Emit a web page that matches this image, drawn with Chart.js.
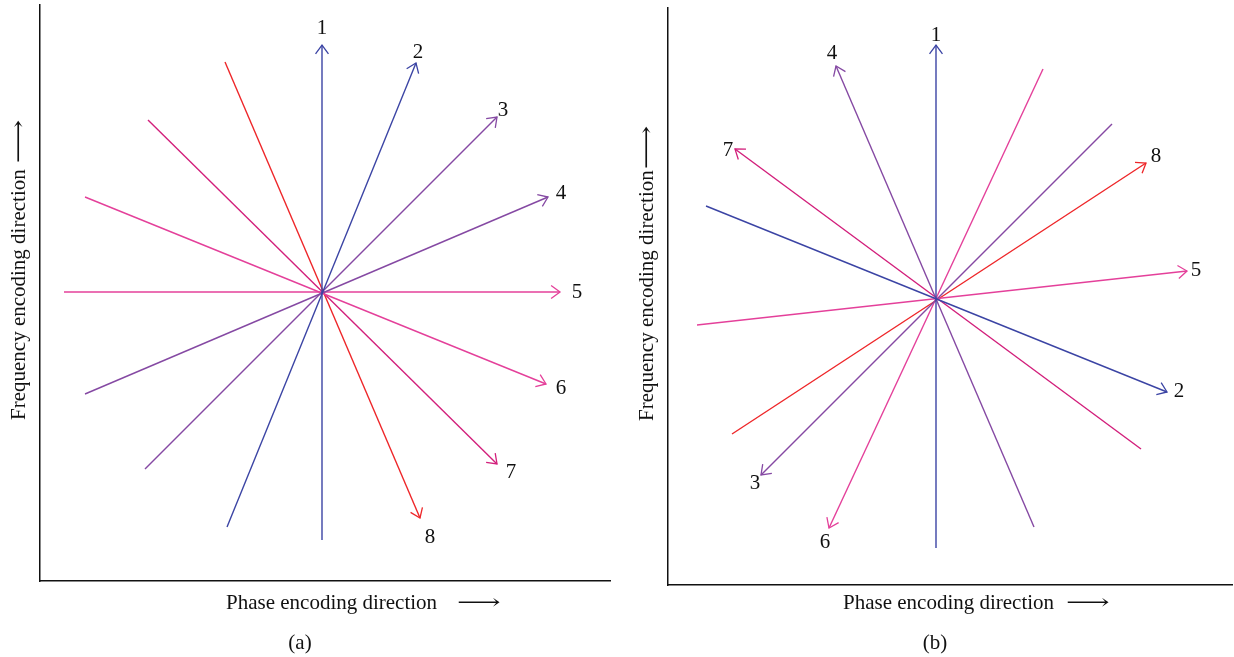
<!DOCTYPE html>
<html>
<head>
<meta charset="utf-8">
<script src="https://cdn.jsdelivr.net/npm/chart.js@4"></script>
<style>
  html, body { margin: 0; padding: 0; background: #ffffff; }
  #wrap { position: relative; width: 1234px; height: 657px; }
  .pane { position: absolute; top: 0; width: 617px; height: 657px; }
  #pa { left: 0; }
  #pb { left: 617px; }
</style>
</head>
<body>
<div id="wrap">
  <div class="pane" id="pa"><canvas id="ca" width="617" height="657"></canvas></div>
  <div class="pane" id="pb"><canvas id="cb" width="617" height="657"></canvas></div>
</div>
<script>
// ---------- DATA (coordinates relative to the centre of each star, y up) ----------
const lineNumbers = ['1', '2', '3', '4', '5', '6', '7', '8'];
const lineColors = ['#3b44a4', '#3b44a4', '#8549a3', '#8549a3', '#e4409a', '#e4409a', '#d21f7b', '#ee2629'];

// Panel (a)
const aTipX  = [0,   94,  175, 226, 238, 224,  175,  98];
const aTipY  = [247, 229, 175, 95,  0,   -92,  -172, -226];
const aTailX = [0,   -95, -177, -237, -258, -237, -174, -97];
const aTailY = [-248, -235, -177, -102, 0,  95,   172,  230];
const aLabelX = [0,   96,  181, 239, 255, 239,  189,  108];
const aLabelY = [264, 240, 182, 99,  0,   -96,  -180, -245];

// Panel (b)
const bTipX  = [0,   231, -175, -100, 251, -107, -201, 210];
const bTipY  = [253, -94, -177, 232,  27,  -230, 149,  135];
const bTailX = [0,   -230, 176, 98,   -239, 107, 205,  -204];
const bTailY = [-250, 92,  174, -229, -27,  229, -151, -136];
const bLabelX = [0,   243, -181, -104, 260, -111, -208, 220];
const bLabelY = [263, -93, -185, 245,  28,  -244, 148,  142];

const xTitle = 'Phase encoding direction';
const yTitle = 'Frequency encoding direction';
const arrowGlyph = '\u27F6';

const FONT = '"Liberation Serif", "DejaVu Serif", serif';

// draw "text + gap + stretched arrow" starting at x (left aligned), vertical middle at y
function drawTitleWithArrow(ctx, text, gap, x, y, arrowStretch) {
  ctx.textAlign = 'left';
  ctx.textBaseline = 'middle';
  ctx.fillText(text, x, y);
  const w = ctx.measureText(text).width;
  ctx.save();
  ctx.translate(x + w + gap, y);
  ctx.scale(arrowStretch, 1);
  ctx.fillText(arrowGlyph, 0, 0);
  ctx.restore();
}

// ---------- PLUGINS ----------
const arrowPlugin = {
  id: 'arrowsAndLabels',
  afterDatasetsDraw(chart, args, opts) {
    const ctx = chart.ctx;
    const xs = chart.scales.x, ys = chart.scales.y;
    ctx.save();
    chart.data.datasets.forEach((ds) => {
      const tail = ds.data[0], tip = ds.data[1];
      const x1 = xs.getPixelForValue(tail.x), y1 = ys.getPixelForValue(tail.y);
      const x2 = xs.getPixelForValue(tip.x), y2 = ys.getPixelForValue(tip.y);
      const ang = Math.atan2(y2 - y1, x2 - x1);
      const len = 11, spread = Math.PI / 5;
      ctx.strokeStyle = ds.borderColor;
      ctx.lineWidth = 1.3;
      ctx.beginPath();
      ctx.moveTo(x2 - len * Math.cos(ang - spread), y2 - len * Math.sin(ang - spread));
      ctx.lineTo(x2, y2);
      ctx.lineTo(x2 - len * Math.cos(ang + spread), y2 - len * Math.sin(ang + spread));
      ctx.stroke();
    });
    ctx.fillStyle = '#111111';
    ctx.font = '21px ' + FONT;
    ctx.textAlign = 'center';
    ctx.textBaseline = 'middle';
    opts.labelX.forEach((lx, i) => {
      ctx.fillText(lineNumbers[i], xs.getPixelForValue(lx), ys.getPixelForValue(opts.labelY[i]));
    });
    ctx.restore();
  },
  afterDraw(chart, args, opts) {
    const ctx = chart.ctx;
    ctx.save();
    ctx.fillStyle = '#111111';
    ctx.font = '21px ' + FONT;
    drawTitleWithArrow(ctx, xTitle, opts.xGap, opts.xTitlePos[0], opts.xTitlePos[1], 1.45);
    ctx.textAlign = 'center';
    ctx.textBaseline = 'middle';
    ctx.fillText(opts.caption, opts.captionPos[0], opts.captionPos[1]);
    ctx.translate(opts.yTitlePos[0], opts.yTitlePos[1]);
    ctx.rotate(-Math.PI / 2);
    drawTitleWithArrow(ctx, yTitle, opts.yGap, 0, 0, 1.45);
    ctx.restore();
  }
};

function makeDatasets(tipX, tipY, tailX, tailY) {
  return lineNumbers.map((n, i) => ({
    label: n,
    data: [{ x: tailX[i], y: tailY[i] }, { x: tipX[i], y: tipY[i] }],
    borderColor: lineColors[i],
    backgroundColor: lineColors[i],
    borderWidth: 1.4,
    showLine: true,
    pointRadius: 0,
    pointHoverRadius: 0,
    fill: false
  }));
}

function makeChart(id, datasets, range, padding, plugOpts) {
  return new Chart(document.getElementById(id), {
    type: 'scatter',
    data: { datasets },
    options: {
      responsive: false,
      animation: false,
      events: [],
      layout: { padding },
      plugins: {
        legend: { display: false },
        tooltip: { enabled: false },
        arrowsAndLabels: plugOpts
      },
      scales: {
        x: {
          type: 'linear', min: range.xmin, max: range.xmax,
          ticks: { display: false },
          grid: { display: false, drawTicks: false },
          border: { display: true, color: '#111111', width: 1.5 }
        },
        y: {
          type: 'linear', min: range.ymin, max: range.ymax,
          ticks: { display: false },
          grid: { display: false, drawTicks: false },
          border: { display: true, color: '#111111', width: 1.5 }
        }
      }
    },
    plugins: [arrowPlugin]
  });
}

makeChart('ca', makeDatasets(aTipX, aTipY, aTailX, aTailY),
  { xmin: -282, xmax: 288, ymin: -289, ymax: 287 },
  { left: 40, top: 5, right: 7, bottom: 76 },
  { labelX: aLabelX, labelY: aLabelY, caption: '(a)', captionPos: [300, 643],
    xTitlePos: [226, 603], xGap: 20, yTitlePos: [19, 420], yGap: 6 });

makeChart('cb', makeDatasets(bTipX, bTipY, bTailX, bTailY),
  { xmin: -268, xmax: 296, ymin: -287, ymax: 290 },
  { left: 51, top: 8, right: 2, bottom: 72 },
  { labelX: bLabelX, labelY: bLabelY, caption: '(b)', captionPos: [318, 643],
    xTitlePos: [226, 603], xGap: 12, yTitlePos: [30, 421], yGap: 1 });
</script>
</body>
</html>
